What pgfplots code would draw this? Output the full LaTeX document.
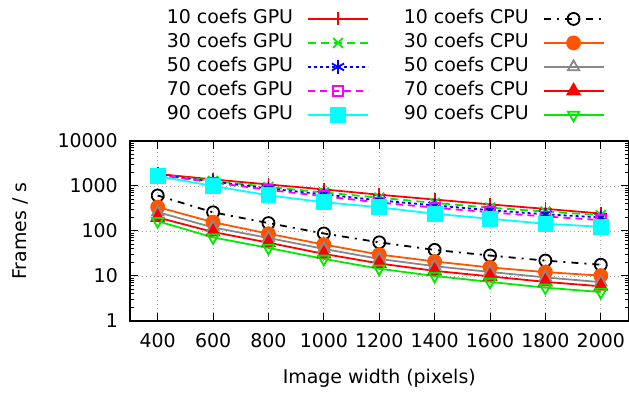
\documentclass[border=0pt]{standalone}
\usepackage{fontspec}
\setmainfont{DejaVu Sans}
\usepackage{pgfplots}
\usepackage{pgfplotstable}
\pgfplotsset{compat=1.18}
\definecolor{cgreen}{RGB}{0,235,0}
\definecolor{corange}{RGB}{255,85,0}
\definecolor{cgray}{RGB}{136,136,136}
\definecolor{ccyan}{RGB}{0,255,255}
\definecolor{cmag}{RGB}{255,0,255}
\pgfplotstableread{
w    g10  g30  g50  g70  g90  c10  c30  c50  c70  c90
400  1850 1800 1780 1750 1650 615  340  262  200  165
600  1400 1300 1250 1200 1000 260  157  120  95   72
800  1080 950  880  820  620  150  87   70   55   42
1000 840  720  650  590  436  88   50   40   31   24
1200 640  550  480  430  337  56   30   24   19   14.5
1400 500  420  370  330  241  38   21   16.5 13   10
1600 390  330  290  260  187  28.5 15.5 12.3 9.8  7.4
1800 310  270  235  210  145  22   12.2 9.3  7.4  5.5
2000 245  225  200  175  124  17.8 10.2 7.3  5.9  4.4
}\data
\begin{document}
\begin{tikzpicture}
\begin{axis}[
  name=ax, at={(0,0)},
  width=498.5bp, height=180bp, scale only axis,
  xmin=300, xmax=2100,
  ymode=log, ymin=1, ymax=10000,
  xtick={400,600,...,2000},
  log ticks with fixed point,
  /pgf/number format/1000 sep={},
  /pgf/number format/assume math mode=true,
  font=\fontsize{19}{22}\selectfont,
  tick label style={font=\fontsize{19}{22}\selectfont, inner sep=0pt},
  yticklabel style={xshift=-12bp},
  xticklabel style={yshift=-12bp},
  xtick pos=both, ytick pos=both,
  xticklabel pos=bottom, yticklabel pos=left,
  tick align=inside,
  major tick length=8bp, minor tick length=4bp,
  every tick/.style={black, line width=1bp},
  axis line style={black, line width=1.2bp},
  grid=major,
  major grid style={dash pattern=on 1bp off 3bp, gray!70, line width=0.8bp},
  xlabel={Image width (pixels)},
  ylabel={Frames / s},
  xlabel style={at={(axis description cs:0.5,-0.3167)}, anchor=center, inner sep=0pt},
  ylabel style={at={(axis description cs:-0.2206,0.5)}, anchor=center, rotate=0, inner sep=0pt},
  legend columns=2,
  legend cell align=right,
  legend plot pos=right,
  legend image code/.code={\draw[mark repeat=2,mark phase=2,#1] plot coordinates {(0bp,0bp) (30bp,0bp) (60bp,0bp)};},
  legend style={draw=none, fill=none, at={(axis description cs:0.9518,1.092)}, anchor=south east,
    inner sep=0pt, outer sep=0pt, row sep=5bp,
    font=\fontsize{19}{22}\selectfont,
    nodes={text height=13.5bp, text depth=3.5bp, inner sep=1bp},
    /tikz/column 1/.style={column sep=13bp},
    /tikz/column 2/.style={column sep=34bp},
    /tikz/column 3/.style={column sep=13bp}},
  every axis plot/.append style={line width=1.8bp},
]
\addplot[red, mark=+, mark size=6.5bp, mark options={solid}] table[x=w,y=g10]{\data};
\addlegendentry{10 coefs GPU}
\addplot[black, dash pattern=on 7bp off 6bp on 2bp off 6bp, mark=o, mark size=6bp, mark options={solid}] table[x=w,y=c10]{\data};
\addlegendentry{10 coefs CPU}
\addplot[cgreen, dash pattern=on 8bp off 5bp, mark=x, mark size=7bp, mark options={solid}] table[x=w,y=g30]{\data};
\addlegendentry{30 coefs GPU}
\addplot[corange, mark=*, mark size=6.5bp, mark options={solid}] table[x=w,y=c30]{\data};
\addlegendentry{30 coefs CPU}
\addplot[blue, dash pattern=on 3bp off 3bp, mark=asterisk, mark size=7bp, mark options={solid}] table[x=w,y=g50]{\data};
\addlegendentry{50 coefs GPU}
\addplot[cgray, mark=triangle, mark size=6.5bp, mark options={solid}] table[x=w,y=c50]{\data};
\addlegendentry{50 coefs CPU}
\addplot[cmag, dash pattern=on 7bp off 5bp, mark=square, mark size=5bp, mark options={solid}] table[x=w,y=g70]{\data};
\addlegendentry{70 coefs GPU}
\addplot[red, mark=triangle*, mark size=7bp, mark options={solid}] table[x=w,y=c70]{\data};
\addlegendentry{70 coefs CPU}
\addplot[ccyan, mark=square*, mark size=7bp, mark options={solid}] table[x=w,y=g90]{\data};
\addlegendentry{90 coefs GPU}
\addplot[cgreen, mark=triangle, mark size=6.5bp, mark options={solid, rotate=180}] table[x=w,y=c90]{\data};
\addlegendentry{90 coefs CPU}
\end{axis}
\pgfresetboundingbox
\path[use as bounding box] ([xshift=-130bp,yshift=-74bp]ax.south west) rectangle ([xshift=0.5bp,yshift=141bp]ax.north east);
\end{tikzpicture}
\end{document}
